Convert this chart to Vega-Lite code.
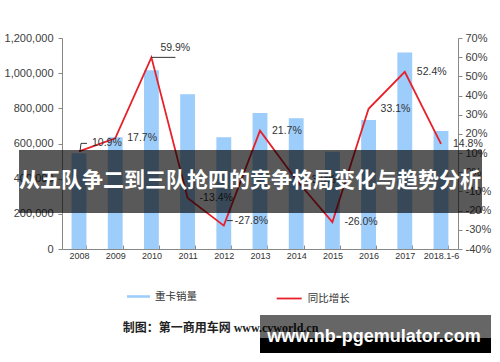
{
  "$schema": "https://vega.github.io/schema/vega-lite/v6.json",
  "width": 396,
  "height": 211,
  "autosize": {"type": "none"},
  "padding": {"left": 62, "top": 38, "right": 42, "bottom": 113},
  "background": "#ffffff",
  "config": {"view": {"stroke": null}, "font": "Liberation Sans"},
  "datasets": {
    "trucks": [
      {"year": "2008", "sales": 545000, "growth": 10.9, "lbl": "10.9%"},
      {"year": "2009", "sales": 636000, "growth": 17.7, "lbl": "17.7%"},
      {"year": "2010", "sales": 1017000, "growth": 59.9, "lbl": "59.9%"},
      {"year": "2011", "sales": 880000, "growth": -13.4, "lbl": "-13.4%"},
      {"year": "2012", "sales": 636000, "growth": -27.8, "lbl": "-27.8%"},
      {"year": "2013", "sales": 774000, "growth": 21.7, "lbl": "21.7%"},
      {"year": "2014", "sales": 744000, "growth": -3.9, "lbl": "-3.9%"},
      {"year": "2015", "sales": 553000, "growth": -26.0, "lbl": "-26.0%"},
      {"year": "2016", "sales": 733000, "growth": 33.1, "lbl": "33.1%"},
      {"year": "2017", "sales": 1117000, "growth": 52.4, "lbl": "52.4%"},
      {"year": "2018.1-6", "sales": 671000, "growth": 14.8, "lbl": "14.8%"}
    ]
  },
  "layer": [
    {
      "data": {"name": "trucks"},
      "encoding": {
        "x": {
          "field": "year", "type": "ordinal", "sort": null,
          "scale": {"paddingInner": 0.59, "paddingOuter": 0.265},
          "axis": {
            "title": null, "labelAngle": 0, "labelFontSize": 9, "labelColor": "#333333",
            "domainColor": "#888888", "tickColor": "#888888", "tickBand": "extent",
            "tickSize": -4, "labelPadding": 6, "grid": false
          }
        }
      },
      "layer": [
        {
          "mark": {"type": "bar"},
          "encoding": {
            "y": {
              "field": "sales", "type": "quantitative",
              "scale": {"domain": [0, 1200000], "nice": false},
              "axis": {
                "title": null, "values": [0, 200000, 400000, 600000, 800000, 1000000, 1200000],
                "format": ",.0f", "labelFontSize": 11, "labelColor": "#404040", "tickSize": 4,
                "labelPadding": 5, "domainColor": "#888888", "tickColor": "#888888", "grid": false
              }
            },
            "fill": {
              "datum": "重卡销量", "type": "nominal",
              "scale": {"range": ["#9dcdfb"]},
              "legend": {
                "orient": "none", "legendX": 65, "legendY": 247, "title": null, "padding": 0,
                "symbolType": "M-1,-0.11H1V0.11H-1Z", "symbolSize": 529, "symbolStrokeWidth": 0,
                "labelFont": "Noto Sans CJK SC", "labelFontSize": 10.5, "labelColor": "#333333", "labelOffset": 5
              }
            }
          }
        },
        {
          "encoding": {
            "y": {
              "field": "growth", "type": "quantitative",
              "scale": {"domain": [-40, 70], "nice": false, "zero": false},
              "axis": {
                "orient": "right", "title": null,
                "values": [-40, -30, -20, -10, 0, 10, 20, 30, 40, 50, 60, 70],
                "labelExpr": "datum.value + '%'", "labelFontSize": 11, "labelColor": "#404040",
                "tickSize": 4, "labelPadding": 3, "domainColor": "#888888", "tickColor": "#888888", "grid": false
              }
            }
          },
          "layer": [
            {
              "mark": {"type": "line", "strokeWidth": 1.8},
              "encoding": {
                "stroke": {
                  "datum": "同比增长", "type": "nominal",
                  "scale": {"range": ["#e8202a"]},
                  "legend": {
                    "orient": "none", "legendX": 213.7, "legendY": 247, "title": null, "padding": 0,
                    "symbolType": "stroke", "symbolSize": 625, "symbolStrokeWidth": 1.8,
                    "labelFont": "Noto Sans CJK SC", "labelFontSize": 10.5, "labelColor": "#333333", "labelOffset": 5
                  }
                }
              }
            },
            {
              "transform": [{"filter": "datum.year != '2008' && datum.year != '2010' && datum.year != '2012'"}],
              "mark": {"type": "text", "align": "left", "baseline": "middle", "dx": 12, "fontSize": 10.5, "color": "#333333"},
              "encoding": {"text": {"field": "lbl"}}
            },
            {
              "transform": [{"filter": "datum.year == '2008'"}],
              "mark": {"type": "text", "align": "left", "baseline": "middle", "dx": 13, "dy": -8, "fontSize": 10.5, "color": "#333333"},
              "encoding": {"text": {"field": "lbl"}}
            },
            {
              "transform": [{"filter": "datum.year == '2010'"}],
              "mark": {"type": "text", "align": "left", "baseline": "middle", "dx": 9, "dy": -9, "fontSize": 10.5, "color": "#333333"},
              "encoding": {"text": {"field": "lbl"}}
            },
            {
              "transform": [{"filter": "datum.year == '2012'"}],
              "mark": {"type": "text", "align": "left", "baseline": "middle", "dx": 11, "dy": -5, "fontSize": 10.5, "color": "#333333"},
              "encoding": {"text": {"field": "lbl"}}
            },
            {
              "transform": [{"filter": "datum.year == '2010'"}],
              "mark": {"type": "rule", "color": "#333333", "strokeWidth": 1, "x2Offset": 24},
              "encoding": {"x2": {"field": "year"}}
            },
            {
              "transform": [{"filter": "datum.year == '2008'"}],
              "mark": {"type": "rule", "color": "#333333", "strokeWidth": 1, "xOffset": 1, "x2Offset": 2, "y2Offset": -8},
              "encoding": {"x2": {"field": "year"}, "y2": {"field": "growth"}}
            },
            {
              "transform": [{"filter": "datum.year == '2008'"}],
              "mark": {"type": "rule", "color": "#333333", "strokeWidth": 1, "xOffset": 2, "x2Offset": 8, "yOffset": -8},
              "encoding": {"x2": {"field": "year"}}
            },
            {
              "transform": [{"filter": "datum.year == '2012'"}],
              "mark": {"type": "rule", "color": "#333333", "strokeWidth": 1, "xOffset": 3, "x2Offset": 9, "yOffset": -5},
              "encoding": {"x2": {"field": "year"}}
            }
          ]
        }
      ],
      "resolve": {"scale": {"y": "independent"}}
    },
    {
      "data": {"values": [{}]},
      "layer": [
        {
          "mark": {"type": "text", "align": "left", "baseline": "middle", "font": "Liberation Serif, Noto Sans CJK SC", "fontWeight": "bold", "fontSize": 12, "color": "#222222"},
          "encoding": {
            "x": {"datum": 1.686, "type": "quantitative", "scale": {"domain": [0, 11], "nice": false, "zero": false}, "axis": null},
            "y": {"datum": -447600, "type": "quantitative", "scale": {"domain": [0, 1200000], "nice": false}, "axis": null},
            "text": {"value": "制图：第一商用车网 www.cvworld.cn"}
          }
        },
        {
          "mark": {"type": "rect", "color": "#000000", "opacity": 0.65},
          "encoding": {
            "x": {"datum": -1.194, "type": "quantitative", "scale": {"domain": [0, 11], "nice": false, "zero": false}, "axis": null},
            "x2": {"datum": 11.667},
            "y": {"datum": 563000, "type": "quantitative", "scale": {"domain": [0, 1200000], "nice": false}, "axis": null},
            "y2": {"datum": 204700}
          }
        },
        {
          "mark": {"type": "text", "align": "center", "baseline": "middle", "font": "Noto Sans CJK SC", "fontWeight": "bold", "fontSize": 21, "color": "#ffffff"},
          "encoding": {
            "x": {"datum": 5.222, "type": "quantitative", "scale": {"domain": [0, 11], "nice": false, "zero": false}, "axis": null},
            "y": {"datum": 383900, "type": "quantitative", "scale": {"domain": [0, 1200000], "nice": false}, "axis": null},
            "text": {"value": "从五队争二到三队抢四的竞争格局变化与趋势分析"}
          }
        },
        {
          "mark": {"type": "rect", "color": "#000000", "opacity": 0.6},
          "encoding": {
            "x": {"datum": 5.5, "type": "quantitative", "scale": {"domain": [0, 11], "nice": false, "zero": false}, "axis": null},
            "x2": {"datum": 11.917},
            "y": {"datum": -375360, "type": "quantitative", "scale": {"domain": [0, 1200000], "nice": false}, "axis": null},
            "y2": {"datum": -506160}
          }
        },
        {
          "mark": {"type": "rect", "color": "#000000", "opacity": 1},
          "encoding": {
            "x": {"datum": 5.5, "type": "quantitative", "scale": {"domain": [0, 11], "nice": false, "zero": false}, "axis": null},
            "x2": {"datum": 11.917},
            "y": {"datum": -506160, "type": "quantitative", "scale": {"domain": [0, 1200000], "nice": false}, "axis": null},
            "y2": {"datum": -591470}
          }
        },
        {
          "mark": {"type": "text", "align": "center", "baseline": "alphabetic", "font": "Liberation Sans", "fontWeight": "bold", "fontSize": 18, "color": "#ffffff"},
          "encoding": {
            "x": {"datum": 8.667, "type": "quantitative", "scale": {"domain": [0, 11], "nice": false, "zero": false}, "axis": null},
            "y": {"datum": -528900, "type": "quantitative", "scale": {"domain": [0, 1200000], "nice": false}, "axis": null},
            "text": {"value": "www.nb-pgemulator.com"}
          }
        }
      ]
    }
  ],
  "resolve": {"scale": {"x": "independent", "y": "independent"}}
}
